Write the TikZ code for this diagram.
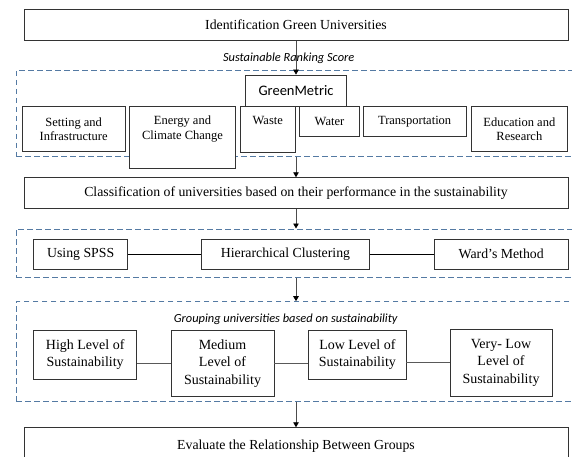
\documentclass[tikz,border=0pt]{standalone}
\usepackage{fontspec}
\setmainfont{Liberation Serif}
\newfontfamily\calibrifont{Carlito}
\usetikzlibrary{arrows.meta}
\definecolor{dashblue}{RGB}{84,122,163}

\begin{document}
\begin{tikzpicture}[x=1pt,y=-1pt,
  box/.style={draw=black!80,fill=white,line width=0.8pt,inner sep=0pt,align=center},
  wide/.style={box,font=\fontsize{13.8}{16.5}\selectfont,minimum width=544pt,minimum height=31pt},
  cell/.style={box,font=\fontsize{12.5}{14.5}\selectfont},
  tool/.style={box,font=\fontsize{13.8}{16.5}\selectfont,minimum height=30.3pt},
  grade/.style={box,font=\fontsize{14}{17.5}\selectfont},
  group/.style={draw=dashblue,dash pattern=on 5.5pt off 3.5pt,line width=1pt,inner sep=0pt,minimum width=560pt},
  note/.style={font=\calibrifont\itshape\fontsize{12.4}{14}\selectfont,inner sep=0pt},
  arr/.style={draw=black!70,line width=0.8pt,-{Triangle[length=5pt,width=5.5pt,color=black]}},
  link/.style={draw=black,line width=0.8pt},
  link2/.style={draw=black!65,line width=1.1pt}]
\useasboundingbox (0,0) rectangle (572,457);

\node[group,minimum height=85.8pt] (score) at (296,113.6) {};
\node[group,minimum height=48.7pt] (cluster) at (296,253.35) {};
\node[group,minimum height=99.3pt] (grouping) at (296,351.35) {};

\node[wide] (ident) at (296,24.8) {Identification Green Universities};
\node[note] (rank) at (288.7,58) {Sustainable Ranking Score};
\node[box,font=\calibrifont\fontsize{14.5}{17}\selectfont,minimum width=100.6pt,minimum height=31pt] (gm) at (296,90.5) {GreenMetric};

\node[cell,minimum width=102.7pt,minimum height=45pt] (setting) at (73.65,129.2) {Setting and\\Infrastructure};
\node[cell,minimum width=106.4pt,minimum height=61.6pt,
  label={[anchor=north,align=center,font=\fontsize{12.5}{14.5}\selectfont,yshift=-6pt]north:Energy and\\Climate Change}] (energy) at (182.5,137.5) {};
\node[cell,minimum width=55pt,minimum height=46pt,
  label={[anchor=north,font=\fontsize{12.5}{14.5}\selectfont,yshift=-6pt]north:Waste}] (waste) at (267.8,129.7) {};
\node[cell,minimum width=60.4pt,minimum height=30pt] (water) at (329.5,121.7) {Water};
\node[cell,minimum width=103.3pt,minimum height=30pt] (transport) at (414.65,121.7) {Transportation};
\node[cell,minimum width=96.7pt,minimum height=45pt] (education) at (519.35,129.2) {Education and\\Research};

\node[wide,minimum height=30.6pt] (class) at (296,193) {Classification of universities based on their performance in the sustainability};

\node[tool,minimum width=94pt] (spss) at (80.7,254.2) {Using SPSS};
\node[tool,minimum width=168.4pt] (hier) at (285.5,254.2) {Hierarchical Clustering};
\node[tool,minimum width=133.7pt] (ward) at (501.2,254.2) {Ward’s Method};

\node[note] (glabel) at (285.7,319) {Grouping universities based on sustainability};
\node[grade,minimum width=103pt,minimum height=49.3pt] (high) at (85.2,354.7) {High Level of\\Sustainability};
\node[grade,minimum width=103pt,minimum height=66.7pt] (medium) at (222.5,363.4) {Medium\\Level of\\Sustainability};
\node[grade,minimum width=97.3pt,minimum height=49.3pt] (low) at (357.4,354.7) {Low Level of\\Sustainability};
\node[grade,minimum width=102pt,minimum height=67.7pt] (vlow) at (501,362.9) {Very- Low\\Level of\\Sustainability};

\node[wide,minimum height=36pt] (eval) at (296,445.7) {Evaluate the Relationship Between Groups};

\draw[arr] (ident) -- (gm);
\draw[arr] (score.south) -- (class);
\draw[arr] (class) -- (cluster.north);
\draw[arr] (cluster.south) -- (grouping.north);
\draw[arr] (grouping.south) -- (eval);
\draw[link] (spss) -- (hier);
\draw[link] (hier) -- (ward);
\draw[link2] (medium.west -| high.east) -- (medium.west);
\draw[link2] (medium.east) -- (medium.east -| low.west);
\draw[link2] (vlow.west -| low.east) -- (vlow.west);
\end{tikzpicture}
\end{document}
